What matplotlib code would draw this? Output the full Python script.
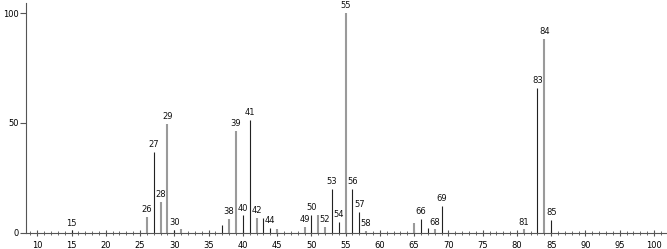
import matplotlib
matplotlib.use("Agg")
import matplotlib.pyplot as plt
from matplotlib.ticker import MultipleLocator

# m/z peaks and relative intensity (%)
mz = [15, 26, 27, 28, 29, 30, 31, 37, 38, 39, 40, 41, 42, 43, 44, 45,
      49, 50, 51, 52, 53, 54, 55, 56, 57, 58, 65, 66, 67, 68, 69,
      81, 83, 84, 85]
intensity = [1.0, 7.2, 36.9, 13.9, 49.5, 1.2, 1.7, 3.5, 6.2, 46.5, 7.9, 51.4, 6.6, 6.6, 2.3, 1.5,
             2.6, 8.1, 8.1, 2.7, 19.8, 4.9, 100.0, 19.8, 9.3, 0.9, 4.6, 6.4, 2.3, 1.5, 12.2,
             1.5, 66.1, 88.1, 5.8]
labeled = [15, 26, 27, 28, 29, 30, 38, 39, 40, 41, 42, 44, 49, 50, 52, 53,
           54, 55, 56, 57, 58, 66, 68, 69, 81, 83, 84, 85]

# bars that render as soft grey strokes in the original
soft = {26, 28, 29, 31, 38, 39, 42, 45, 49, 51, 52, 55, 58, 65, 68, 81, 84}

fig = plt.figure(figsize=(6.67, 2.49), dpi=100)
ax = fig.add_axes([0.0385, 0.0655, 0.9615, 0.9215])

for m, h in zip(mz, intensity):
    if m in soft:
        ax.vlines(m, 0, h, color="#9a9a9a", linewidth=1.5)
    else:
        ax.vlines(m, 0, h, color="#222222", linewidth=0.8)
    if m in labeled:
        ax.annotate(str(m), (m, h), xytext=(0, 2), textcoords="offset points",
                    ha="center", va="bottom", fontsize=6, color="#111111")

ax.set_xlim(8.31, 101.9)
ax.set_ylim(0, 104.5)

ax.spines["top"].set_visible(False)
ax.spines["right"].set_visible(False)
for s in ("left", "bottom"):
    ax.spines[s].set_color("#555555")
    ax.spines[s].set_linewidth(0.8)

ax.xaxis.set_minor_locator(MultipleLocator(1))
ax.set_xticks(range(10, 101, 5))
ax.set_yticks([0, 50, 100])
ax.tick_params(axis="x", which="major", direction="inout", length=5, width=0.8,
               color="#555555", labelsize=6, pad=3.5)
ax.tick_params(axis="x", which="minor", direction="inout", length=3, width=0.6,
               color="#555555")
ax.tick_params(axis="y", which="major", direction="out", length=4, width=0.8,
               color="#555555", labelsize=6, pad=1)

fig.savefig("out.png", dpi=100)
